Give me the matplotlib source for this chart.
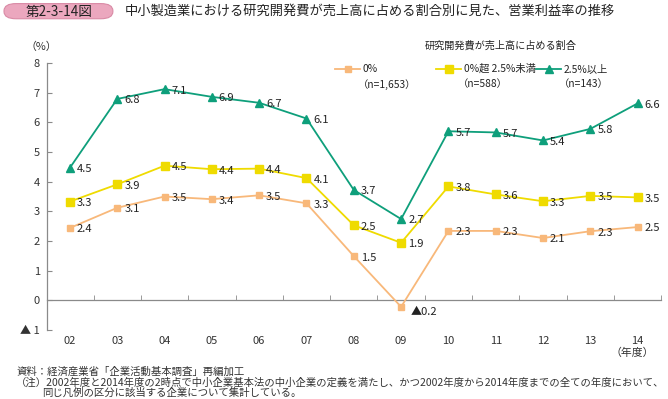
import matplotlib
matplotlib.use('Agg')
import matplotlib.pyplot as plt
from matplotlib.lines import Line2D
from matplotlib.patches import FancyBboxPatch
from matplotlib.ticker import FixedLocator

plt.rcParams['font.family'] = ['Noto Sans CJK JP', 'DejaVu Sans']

years = ['02', '03', '04', '05', '06', '07', '08', '09', '10', '11', '12', '13', '14']
rd_zero = [2.44, 3.12, 3.50, 3.41, 3.54, 3.27, 1.49, -0.22, 2.34, 2.34, 2.10, 2.33, 2.47]
rd_low = [3.33, 3.91, 4.54, 4.42, 4.44, 4.12, 2.53, 1.94, 3.84, 3.57, 3.34, 3.52, 3.47]
rd_high = [4.47, 6.79, 7.12, 6.86, 6.66, 6.13, 3.72, 2.74, 5.70, 5.66, 5.39, 5.78, 6.64]
series_names = ['0%', '0%超 2.5%未満', '2.5%以上']
series_n = ['（n=1,653）', '（n=588）', '（n=143）']
yticks = [-1, 0, 1, 2, 3, 4, 5, 6, 7, 8]
ytick_labels = ['▲ 1', '0', '1', '2', '3', '4', '5', '6', '7', '8']

colors = ['#F8B87A', '#EFDB00', '#0E9F7B']
markers = ['s', 's', '^']
msizes = [4.0, 6.2, 6.2]

fig = plt.figure(figsize=(6.68, 3.99), dpi=100)
ax = fig.add_axes([0.070, 0.173, 0.920, 0.669])

x = list(range(len(years)))
for vals, c, m, ms in zip([rd_zero, rd_low, rd_high], colors, markers, msizes):
    ax.plot(x, vals, color=c, lw=1.3, marker=m, markersize=ms, zorder=3)
    for xi, v in zip(x, vals):
        if v < 0:
            txt = f'▲{abs(v):.1f}'
            off = (7, -3.5)
        else:
            txt = f'{v:.1f}'
            off = (5, -1)
        ax.annotate(txt, (xi, v), xytext=off, textcoords='offset points',
                    ha='left', va='center', fontsize=8, color='#222222', zorder=4)

ax.set_xlim(-0.49, 12.5)
ax.set_ylim(-1, 8)

for s in ['top', 'right']:
    ax.spines[s].set_visible(False)
ax.spines['left'].set_color('#8a8a8a')
ax.spines['bottom'].set_color('#8a8a8a')
ax.spines['bottom'].set_position(('data', 0))
ax.spines['left'].set_linewidth(0.9)
ax.spines['bottom'].set_linewidth(0.9)

ax.set_yticks(yticks)
ax.set_yticklabels(ytick_labels)
ax.tick_params(axis='y', direction='in', length=3.5, color='#8a8a8a',
               labelsize=8, labelcolor='#333333', pad=5)

ax.set_xticks(x)
ax.set_xticklabels(years)
ax.xaxis.set_minor_locator(FixedLocator([i + 0.5 for i in x]))
ax.tick_params(axis='x', which='major', length=0, pad=26,
               labelsize=8, labelcolor='#333333')
ax.tick_params(axis='x', which='minor', direction='in', length=3.5, color='#8a8a8a')

fig.text(0.946, 0.115, '（年度）', fontsize=7.8, color='#333333', ha='center', va='center')
fig.text(0.062, 0.882, '（%）', fontsize=7.8, color='#333333', ha='center', va='center')

# legend
fig.text(0.749, 0.887, '研究開発費が売上高に占める割合', fontsize=7.3, color='#222222',
         ha='center', va='center')
leg_x = [0.502, 0.653, 0.803]
for lx, c, m, ms, name, n in zip(leg_x, colors, markers, msizes, series_names, series_n):
    fig.add_artist(Line2D([lx, lx + 0.037], [0.827, 0.827], color=c, lw=1.3,
                          transform=fig.transFigure))
    fig.add_artist(Line2D([lx + 0.0185], [0.827], color=c, marker=m, markersize=ms,
                          transform=fig.transFigure))
    fig.text(lx + 0.041, 0.827, name, fontsize=7.4, color='#222222', ha='left', va='center')
    fig.text(lx + 0.033, 0.789, n, fontsize=7.4, color='#222222', ha='left', va='center')

# title badge
badge = FancyBboxPatch((0.006, 0.953), 0.163, 0.038,
                       boxstyle='round,pad=0,rounding_size=0.018',
                       transform=fig.transFigure, facecolor='#EBA7BE',
                       edgecolor='#D98AA5', lw=0.8)
fig.add_artist(badge)
fig.text(0.088, 0.971, '第2-3-14図', fontsize=9.8, color='#222222', ha='center', va='center')
fig.text(0.187, 0.971, '中小製造業における研究開発費が売上高に占める割合別に見た、営業利益率の推移',
         fontsize=9.5, color='#222222', ha='left', va='center')

# notes
fig.text(0.025, 0.068, '資料：経済産業省「企業活動基本調査」再編加工', fontsize=7.5,
         color='#333333', ha='left', va='center')
fig.text(0.024, 0.040, '（注）2002年度と2014年度の2時点で中小企業基本法の中小企業の定義を満たし、'
         'かつ2002年度から2014年度までの全ての年度において、', fontsize=7.45,
         color='#333333', ha='left', va='center')
fig.text(0.063, 0.015, '同じ凡例の区分に該当する企業について集計している。', fontsize=7.5,
         color='#333333', ha='left', va='center')

fig.savefig('out.png', dpi=100)
